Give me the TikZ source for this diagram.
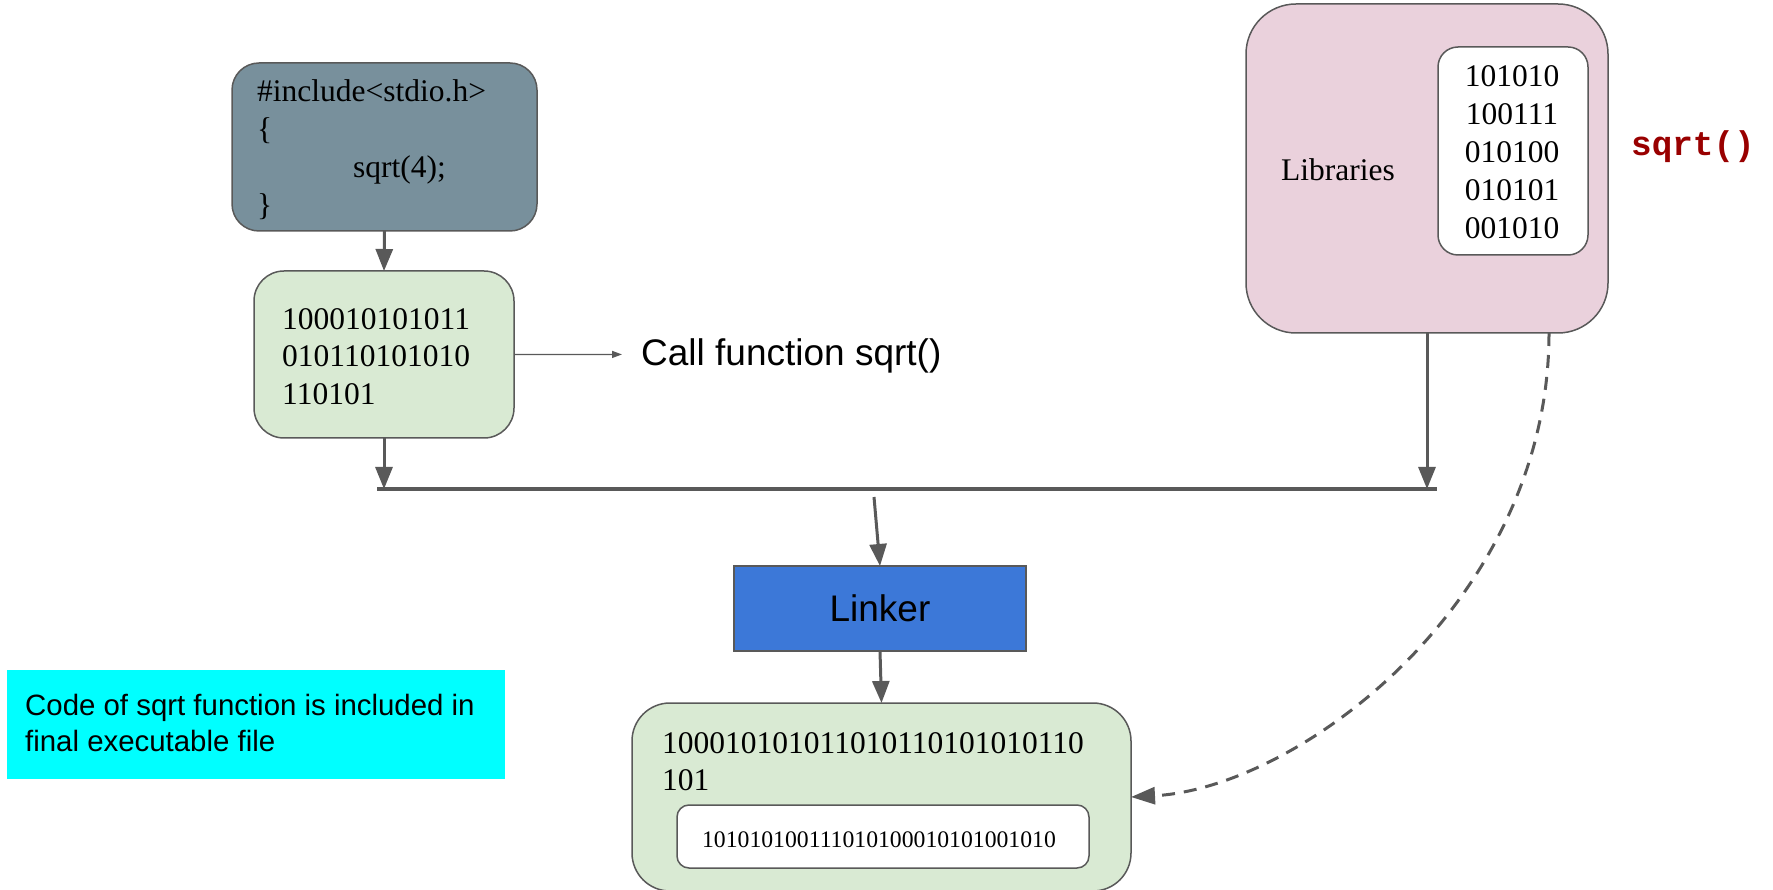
\documentclass[tikz,border=0pt]{standalone}
\usepackage{fontspec}
\setmainfont{Liberation Serif}
\newfontfamily\arialf{Liberation Sans}
\newfontfamily\courf{Liberation Mono}
\usetikzlibrary{arrows.meta}
\definecolor{lc}{HTML}{595959}
\definecolor{slate}{HTML}{78909C}
\definecolor{lgreen}{HTML}{D9EAD3}
\definecolor{lpink}{HTML}{EAD1DC}
\definecolor{lblue}{HTML}{3C78D8}
\definecolor{dred}{HTML}{990000}
\definecolor{cyanbox}{HTML}{00FFFF}
\begin{document}
\begin{tikzpicture}[x=1pt,y=-1pt,
  box/.style={draw=lc, line width=1.5pt, inner sep=0pt, outer sep=0pt},
  txt/.style={anchor=base west, inner sep=0pt, font=\fontsize{31.5}{37.7}\selectfont},
  ctxt/.style={anchor=base, inner sep=0pt, font=\fontsize{31.5}{37.7}\selectfont},
  stxt/.style={anchor=base west, inner sep=0pt, font=\arialf\fontsize{29.4}{36}\selectfont},
  arr/.style={draw=lc, line width=3pt, -{Triangle[length=22pt,width=17pt]}},
  thinarr/.style={draw=lc, line width=1.3pt, -{Triangle[length=10pt,width=7pt]}},
  dasharr/.style={draw=lc, line width=3pt, dash pattern=on 13pt off 9pt, -{Triangle[length=24pt,width=17pt]}}
]
\useasboundingbox (0,0) rectangle (1773,890);

% boxes
\node[box, fill=slate, rounded corners=27pt, minimum width=305pt, minimum height=168pt] (src) at (384.5,147) {};
\node[box, fill=lgreen, rounded corners=30pt, minimum width=260pt, minimum height=167pt] (obj) at (384,354.5) {};
\node[box, fill=lpink, rounded corners=50pt, minimum width=362pt, minimum height=329pt] (lib) at (1427,168.5) {};
\node[box, fill=white, rounded corners=20pt, minimum width=150pt, minimum height=208pt] (libcode) at (1513,151) {};
\node[box, fill=lblue, minimum width=292pt, minimum height=85pt, font=\arialf\fontsize{37}{44}\selectfont] (linker) at (880,608.5) {Linker};
\node[box, fill=lgreen, rounded corners=38pt, minimum width=499pt, minimum height=188pt] (exe) at (881.5,797) {};
\node[box, fill=white, rounded corners=12pt, minimum width=412pt, minimum height=63pt] (inner) at (883,836.5) {};
\node[fill=cyanbox, inner sep=0pt, minimum width=498pt, minimum height=109pt] (note) at (256,724.5) {};

% texts
\node[txt] (s1) at (257,102) {\#include<stdio.h>};
\node[txt] (s2) at (257,139.7) {\{};
\node[txt] (s3) at (353,177.4) {sqrt(4);};
\node[txt] (s4) at (257,215.1) {\}};

\node[txt] (o1) at (282,329.3) {100010101011};
\node[txt] (o2) at (282,366.8) {010110101010};
\node[txt] (o3) at (282,404.3) {110101};

\node[txt] (libt) at (1281,181) {Libraries};
\node[ctxt] (l1) at (1512,87) {101010};
\node[ctxt] (l2) at (1512,125) {100111};
\node[ctxt] (l3) at (1512,163) {010100};
\node[ctxt] (l4) at (1512,201) {010101};
\node[ctxt] (l5) at (1512,239) {001010};

\node[anchor=base west, inner sep=0pt, text=dred, font=\courf\bfseries\fontsize{34.3}{40}\selectfont] (sq) at (1631,156) {sqrt()};

\node[anchor=base west, inner sep=0pt, font=\arialf\fontsize{37}{44}\selectfont] (callf) at (641,366) {Call function sqrt()};

\node[txt] (e1) at (662,753) {100010101011010110101010110};
\node[txt] (e2) at (662,790) {101};
\node[anchor=base, inner sep=0pt, font=\fontsize{23.7}{28}\selectfont] (e3) at (879,847) {101010100111010100010101001010};

\node[stxt] (n1) at (25,715) {Code of sqrt function is included in};
\node[stxt] (n2) at (25,751) {final executable file};

% bar
\coordinate (barL) at (377,489);
\coordinate (barR) at (1437,489);
\draw[lc, line width=4pt] (barL) -- (barR);
\coordinate (barout) at (874,497);
\coordinate (dstart) at (1549,333);

% connectors
\draw[arr] (src.south) -- (obj.north);
\draw[arr] (obj.south) -- (obj.south |- barL);
\draw[arr] (lib.south) -- (lib.south |- barL);
\draw[arr] (barout) -- (linker.north);
\draw[arr] (linker.south) -- (exe.north);
\draw[thinarr] (obj.east) -- ([xshift=-19pt,yshift=2pt]callf.west);
\draw[dasharr] (dstart) .. controls (1549,600) and (1300,788) .. (exe.east);
\end{tikzpicture}
\end{document}
